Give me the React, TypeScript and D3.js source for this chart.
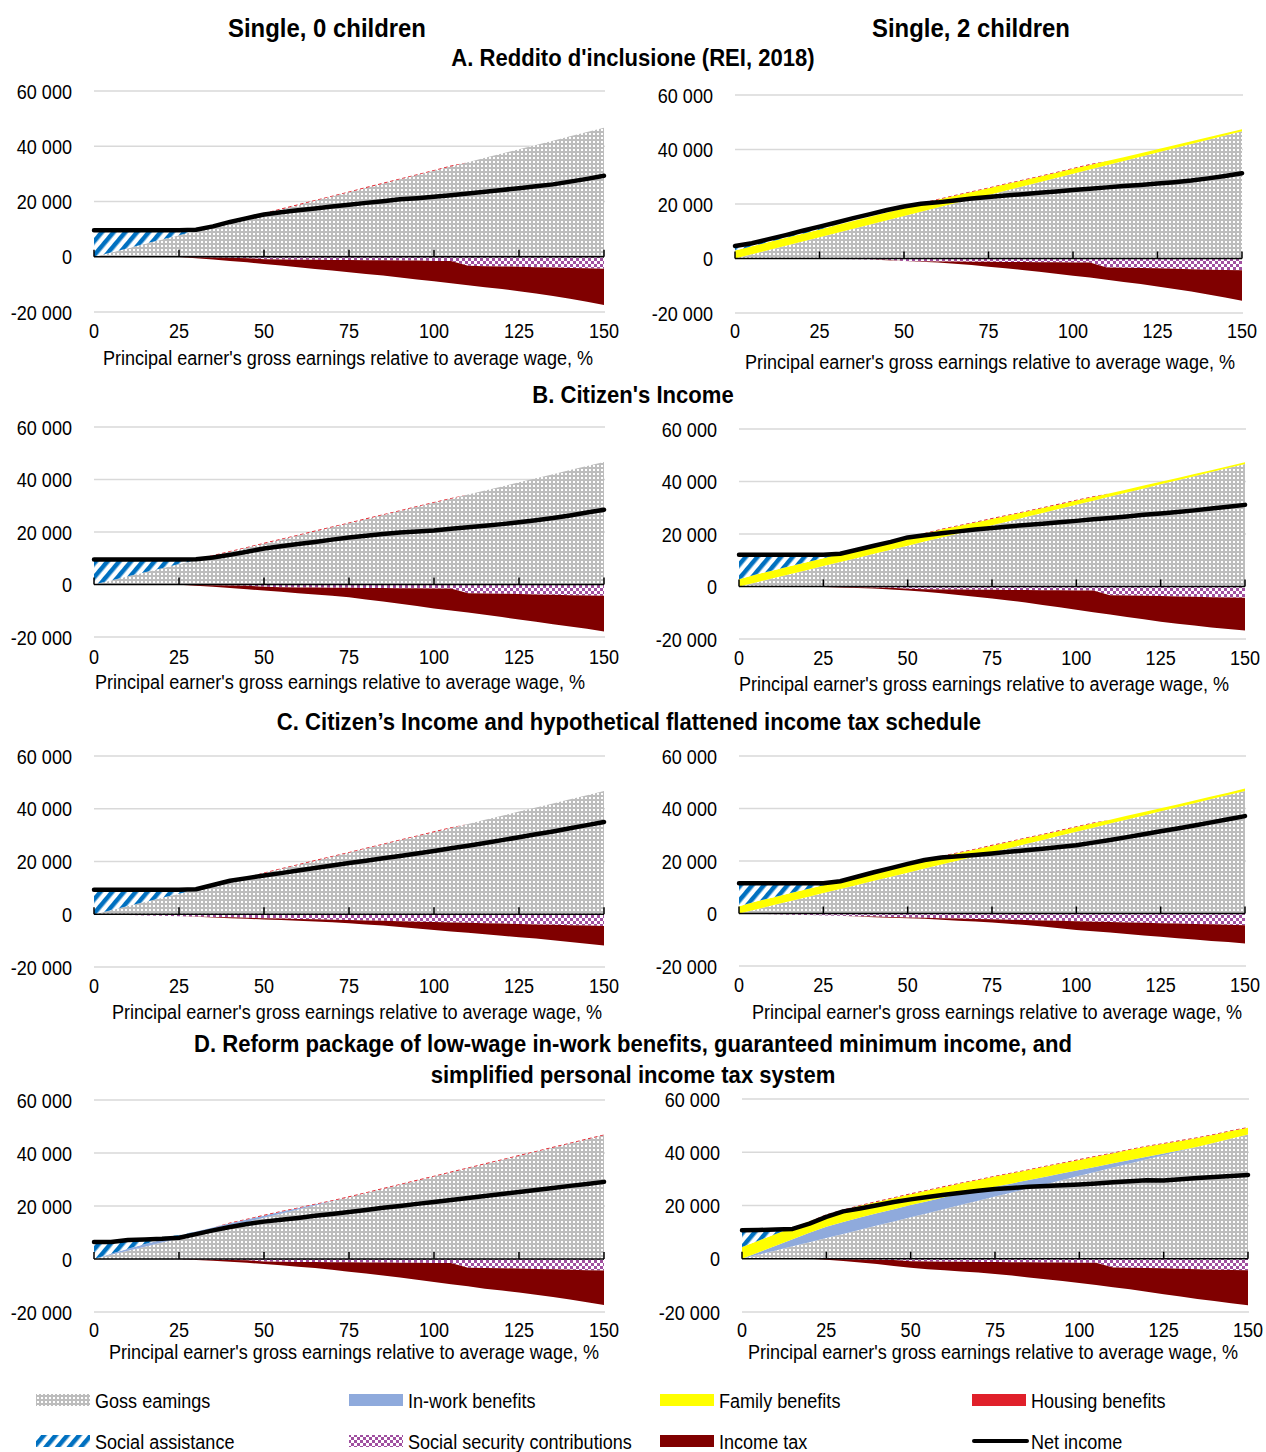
import React from "react";
import * as d3 from "d3";

// Principal earner's gross earnings as % of the average wage (x axis)
const earningsPct = [0, 5, 10, 15, 20, 25, 30, 35, 40, 45, 50, 55, 60, 65, 70, 75, 80, 85, 90, 95, 100, 105, 110, 115, 120, 125, 130, 135, 140, 145, 150];

// Gross earnings, EUR per year
const grossEarnings = [0, 1557, 3113, 4670, 6226, 7783, 9339, 10896, 12452, 14009, 15565, 17122, 18678, 20235, 21791, 23348, 24904, 26461, 28017, 29574, 31130, 32687, 34243, 35800, 37356, 38913, 40469, 42026, 43582, 45139, 46695];

// Social security contributions
const sscFull = [0, 148, 295, 443, 591, 739, 886, 1034, 1182, 1329, 1477, 1625, 1773, 1920, 2068, 2216, 2363, 2511, 2659, 2807, 2954, 3102, 3250, 3397, 3545, 3693, 3841, 3988, 4136, 4284, 4431];
const sscStepped = [0, 0, 0, 0, 0, 100, 200, 300, 400, 500, 900, 1000, 1100, 1100, 1200, 1200, 1300, 1300, 1400, 1400, 1500, 1500, 3300, 3400, 3500, 3600, 3800, 3900, 4100, 4200, 4300];

const noValues = [0, 0, 0, 0, 0, 0, 0, 0, 0, 0, 0, 0, 0, 0, 0, 0, 0, 0, 0, 0, 0, 0, 0, 0, 0, 0, 0, 0, 0, 0, 0];

// A. Reddito d'inclusione (REI, 2018)
const netA0 = [9600, 9600, 9600, 9600, 9600, 9600, 9800, 11000, 12600, 14000, 15300, 16100, 16800, 17500, 18200, 18800, 19500, 20100, 20800, 21200, 21700, 22300, 22900, 23500, 24200, 24800, 25500, 26200, 27200, 28200, 29300];
const saA0 = [9600, 8043, 6487, 4930, 3374, 1817, 261, 0, 0, 0, 0, 0, 0, 0, 0, 0, 0, 0, 0, 0, 0, 0, 0, 0, 0, 0, 0, 0, 0, 0, 0];
const housingA0 = [0, 0, 0, 0, 0, 0, 0, 300, 300, 300, 300, 300, 300, 300, 300, 300, 300, 300, 300, 300, 300, 300, 0, 0, 0, 0, 0, 0, 0, 0, 0];
const taxA0 = [0, 0, 0, 0, 0, 0, 300, 700, 1100, 1500, 1700, 2200, 2700, 3300, 3800, 4400, 4900, 5500, 6100, 6800, 7400, 8100, 7000, 7600, 8200, 8900, 9500, 10300, 11100, 12100, 13200];

const netA2 = [4600, 5600, 7100, 8600, 10200, 11700, 13200, 14800, 16300, 17800, 19100, 20100, 20600, 21300, 22000, 22600, 23100, 23600, 24100, 24600, 25100, 25600, 26100, 26600, 27000, 27500, 28000, 28600, 29400, 30300, 31300];
const famA2 = [2900, 2900, 2900, 2900, 2900, 2900, 2900, 2900, 2900, 2900, 2900, 2900, 2900, 2750, 2600, 2450, 2300, 2150, 2000, 1900, 1800, 1650, 1500, 1400, 1300, 1200, 1100, 1000, 900, 800, 700];
const saA2 = [1700, 1100, 900, 700, 500, 300, 0, 0, 0, 0, 0, 0, 0, 0, 0, 0, 0, 0, 0, 0, 0, 0, 0, 0, 0, 0, 0, 0, 0, 0, 0];
const housingA2 = [0, 0, 0, 0, 0, 0, 0, 0, 0, 0, 0, 300, 300, 300, 300, 300, 300, 300, 300, 300, 300, 300, 0, 0, 0, 0, 0, 0, 0, 0, 0];
const taxA2 = [0, 0, 0, 0, 0, 0, 0, 0, 0, 100, 0, 200, 400, 800, 1200, 1800, 2300, 2900, 3500, 4200, 4800, 5500, 4500, 5200, 5900, 6700, 7400, 8200, 9100, 10100, 11200];

// B. Citizen's Income
const netB0 = [9500, 9500, 9500, 9500, 9500, 9500, 9600, 10300, 11300, 12500, 13700, 14600, 15400, 16200, 17100, 17900, 18600, 19200, 19800, 20200, 20600, 21200, 21800, 22400, 23000, 23700, 24500, 25300, 26300, 27400, 28500];
const saB0 = [9500, 7943, 6387, 4830, 3274, 1717, 161, 0, 0, 0, 0, 0, 0, 0, 0, 0, 0, 0, 0, 0, 0, 0, 0, 0, 0, 0, 0, 0, 0, 0, 0];
const housingB0 = [0, 0, 0, 0, 0, 0, 0, 300, 300, 300, 300, 300, 300, 300, 300, 300, 300, 300, 300, 300, 300, 300, 0, 0, 0, 0, 0, 0, 0, 0, 0];
const taxB0 = [0, 0, 0, 0, 0, 0, 300, 600, 900, 1300, 1400, 1800, 2200, 2700, 3100, 3700, 4400, 5200, 5900, 6800, 7600, 8400, 7400, 8100, 8900, 9700, 10400, 11200, 11900, 12700, 13600];

const netB2 = [12100, 12100, 12100, 12100, 12100, 12100, 12500, 14000, 15500, 17000, 18700, 19500, 20300, 21000, 21700, 22300, 22900, 23400, 23900, 24500, 25000, 25600, 26100, 26700, 27300, 27800, 28400, 29000, 29700, 30400, 31100];
const famB2 = [2800, 3000, 3000, 3000, 3000, 3000, 3000, 3000, 3000, 3000, 3000, 3000, 3000, 2800, 2600, 2400, 2200, 2000, 1900, 1700, 1600, 1400, 1300, 1200, 1100, 1000, 900, 800, 700, 650, 600];
const saB2 = [9300, 7543, 5987, 4430, 2874, 1317, 161, 0, 0, 0, 0, 0, 0, 0, 0, 0, 0, 0, 0, 0, 0, 0, 0, 0, 0, 0, 0, 0, 0, 0, 0];
const housingB2 = [0, 0, 0, 0, 0, 0, 0, 0, 0, 0, 0, 300, 300, 300, 300, 300, 300, 300, 300, 300, 300, 300, 0, 0, 0, 0, 0, 0, 0, 0, 0];
const taxB2 = [0, 0, 0, 0, 0, 100, 200, 300, 400, 600, 600, 1000, 1500, 2100, 2700, 3400, 4000, 4800, 5600, 6500, 7400, 8300, 7400, 8200, 9000, 9800, 10400, 11000, 11500, 12000, 12500];

// C. Citizen's Income and hypothetical flattened income tax schedule
const netC0 = [9300, 9300, 9300, 9300, 9300, 9300, 9500, 11100, 12700, 13700, 14700, 15600, 16600, 17500, 18500, 19400, 20300, 21200, 22100, 23000, 24000, 25000, 26000, 27000, 28100, 29200, 30300, 31400, 32600, 33800, 35000];
const saC0 = [9300, 7743, 6187, 4630, 3074, 1517, 161, 0, 0, 0, 0, 0, 0, 0, 0, 0, 0, 0, 0, 0, 0, 0, 0, 0, 0, 0, 0, 0, 0, 0, 0];
const housingC0 = [0, 0, 0, 0, 0, 0, 0, 0, 0, 0, 300, 300, 300, 300, 300, 300, 300, 300, 300, 300, 300, 300, 0, 0, 0, 0, 0, 0, 0, 0, 0];
const taxC0 = [0, 0, 0, 0, 0, 0, 100, 200, 300, 400, 500, 600, 700, 800, 1000, 1200, 1500, 1800, 2200, 2600, 3000, 3400, 3800, 4200, 4600, 5000, 5400, 5900, 6400, 6900, 7400];

const netC2 = [11500, 11500, 11500, 11500, 11500, 11500, 12300, 14000, 15700, 17300, 18900, 20400, 21300, 21800, 22300, 22900, 23500, 24100, 24700, 25300, 26000, 27000, 28000, 29100, 30200, 31300, 32400, 33500, 34700, 35900, 37100];
const famC2 = [2800, 3000, 3000, 3000, 3000, 3000, 3000, 3000, 3000, 3000, 3000, 3000, 3000, 2800, 2600, 2500, 2300, 2200, 2000, 1900, 1800, 1700, 1500, 1400, 1300, 1200, 1100, 1000, 1000, 900, 900];
const saC2 = [8700, 6943, 5387, 3830, 2274, 717, 0, 0, 0, 0, 0, 0, 0, 0, 0, 0, 0, 0, 0, 0, 0, 0, 0, 0, 0, 0, 0, 0, 0, 0, 0];
const housingC2 = [0, 0, 0, 0, 0, 0, 0, 0, 0, 0, 0, 0, 300, 300, 300, 300, 300, 300, 300, 300, 300, 300, 0, 0, 0, 0, 0, 0, 0, 0, 0];
const taxC2 = [0, 0, 0, 0, 0, 0, 0, 100, 200, 300, 300, 400, 600, 800, 1000, 1200, 1500, 1900, 2300, 2800, 3300, 3700, 4000, 4400, 4800, 5200, 5600, 5900, 6300, 6600, 7000];

// D. Reform package
const netD0 = [6400, 6400, 7200, 7400, 7600, 8000, 9400, 10800, 12100, 13200, 14100, 14800, 15500, 16300, 17000, 17700, 18500, 19300, 20000, 20800, 21500, 22300, 23000, 23800, 24500, 25300, 26000, 26800, 27600, 28300, 29100];
const inworkD0 = [0, 400, 800, 1000, 1000, 1000, 1000, 1000, 1000, 900, 800, 700, 500, 300, 100, 0, 0, 0, 0, 0, 0, 0, 0, 0, 0, 0, 0, 0, 0, 0, 0];
const saD0 = [6200, 4500, 3000, 2000, 1000, 300, 0, 0, 0, 0, 0, 0, 0, 0, 0, 0, 0, 0, 0, 0, 0, 0, 0, 0, 0, 0, 0, 0, 0, 0, 0];
const housingD0 = [0, 0, 0, 0, 0, 0, 0, 0, 300, 300, 300, 300, 300, 300, 300, 300, 300, 300, 300, 300, 300, 300, 300, 300, 300, 300, 300, 300, 300, 300, 300];
const taxD0 = [0, 0, 0, 0, 0, 0, 200, 400, 600, 900, 1000, 1400, 1800, 2300, 2900, 3600, 4200, 4900, 5600, 6400, 7200, 8000, 7000, 7800, 8400, 9000, 9700, 10400, 11200, 12100, 13100];

const netD2 = [10700, 10800, 11000, 11200, 13200, 15700, 17800, 18900, 20100, 21300, 22300, 23200, 24000, 24800, 25500, 26200, 26600, 27000, 27300, 27600, 27900, 28300, 28700, 29100, 29500, 29400, 29900, 30300, 30700, 31100, 31500];
const inworkD2 = [0, 900, 1800, 2700, 3500, 4200, 4500, 4600, 4600, 4600, 4600, 4500, 4400, 4300, 4000, 3700, 3400, 3100, 2800, 2500, 2200, 1900, 1600, 1300, 1000, 600, 300, 0, 0, 0, 0];
const famD2 = [4400, 4400, 4400, 4400, 4400, 4400, 4400, 4400, 4300, 4200, 4100, 4000, 3900, 3800, 3800, 3800, 3800, 3800, 3800, 3800, 3800, 3800, 3800, 3800, 3800, 3700, 3500, 3300, 3000, 2800, 2500];
const saD2 = [6300, 3900, 1700, 0, 0, 0, 0, 0, 0, 0, 0, 0, 0, 0, 0, 0, 0, 0, 0, 0, 0, 0, 0, 0, 0, 0, 0, 0, 0, 0, 0];
const housingD2 = [0, 0, 0, 0, 0, 300, 300, 300, 300, 300, 300, 300, 300, 300, 300, 300, 300, 300, 300, 300, 300, 300, 300, 300, 300, 300, 300, 300, 300, 300, 300];
const taxD2 = [0, 0, 0, 0, 0, 300, 600, 1100, 1600, 2200, 2500, 2900, 3200, 3700, 4000, 4500, 5000, 5700, 6300, 7000, 7600, 8400, 7400, 8100, 8900, 9700, 10400, 11200, 11800, 12500, 13200];

const xTicks = [0, 25, 50, 75, 100, 125, 150];
const yTicks = [60000, 40000, 20000, 0, -20000];
const yTickLabels = ["60 000", "40 000", "20 000", "0", "-20 000"];
const xAxisTitle = "Principal earner's gross earnings relative to average wage, %";

type Series = { inwork: number[]; fam: number[]; sa: number[]; housing: number[]; ssc: number[]; tax: number[]; net: number[] };

const panelSeries: Series[] = [
  { inwork: noValues, fam: noValues, sa: saA0, housing: housingA0, ssc: sscStepped, tax: taxA0, net: netA0 },
  { inwork: noValues, fam: famA2, sa: saA2, housing: housingA2, ssc: sscStepped, tax: taxA2, net: netA2 },
  { inwork: noValues, fam: noValues, sa: saB0, housing: housingB0, ssc: sscStepped, tax: taxB0, net: netB0 },
  { inwork: noValues, fam: famB2, sa: saB2, housing: housingB2, ssc: sscStepped, tax: taxB2, net: netB2 },
  { inwork: noValues, fam: noValues, sa: saC0, housing: housingC0, ssc: sscFull, tax: taxC0, net: netC0 },
  { inwork: noValues, fam: famC2, sa: saC2, housing: housingC2, ssc: sscFull, tax: taxC2, net: netC2 },
  { inwork: inworkD0, fam: noValues, sa: saD0, housing: housingD0, ssc: sscStepped, tax: taxD0, net: netD0 },
  { inwork: inworkD2, fam: famD2, sa: saD2, housing: housingD2, ssc: sscStepped, tax: taxD2, net: netD2 },
];

// Pixel frame of each small chart
const frames = [
  { x0: 94, x1: 604, yTop: 91, yBot: 312, labelRight: 72, tickY: 338, titleX: 348, titleY: 365 },
  { x0: 735, x1: 1242, yTop: 95, yBot: 313, labelRight: 713, tickY: 338, titleX: 990, titleY: 369 },
  { x0: 94, x1: 604, yTop: 427, yBot: 637, labelRight: 72, tickY: 664, titleX: 340, titleY: 689 },
  { x0: 739, x1: 1245, yTop: 429, yBot: 639, labelRight: 717, tickY: 665, titleX: 984, titleY: 691 },
  { x0: 94, x1: 604, yTop: 756, yBot: 967, labelRight: 72, tickY: 993, titleX: 357, titleY: 1019 },
  { x0: 739, x1: 1245, yTop: 756, yBot: 966, labelRight: 717, tickY: 992, titleX: 997, titleY: 1019 },
  { x0: 94, x1: 604, yTop: 1100, yBot: 1312, labelRight: 72, tickY: 1337, titleX: 354, titleY: 1359 },
  { x0: 742, x1: 1248, yTop: 1099, yBot: 1312, labelRight: 720, tickY: 1337, titleX: 993, titleY: 1359 },
];

const FONT = "'Liberation Sans', Arial, sans-serif";
const NARROW = 0.86;
const NARROW_BOLD = 0.92;

const COLORS = {
  grossBg: "#bdbdbd",
  inwork: "#8faadc",
  fam: "#ffff00",
  housing: "#e0202a",
  sa: "#0070c0",
  ssc: "#a050a0",
  tax: "#800000",
  grid: "#d9d9d9",
};

const posKeys = ["gross", "inwork", "fam", "sa", "housing"];
const negKeys = ["ssc", "tax"];
const fills: Record<string, string> = {
  gross: "url(#pGross)",
  inwork: COLORS.inwork,
  fam: COLORS.fam,
  sa: "url(#pSa)",
  housing: "url(#pHousing)",
  ssc: "url(#pSsc)",
  tax: COLORS.tax,
};

// Horizontally condensed text, anchored at (x, y)
function T({ x, y, anchor = "start", size = 21, bold = false, children }: any) {
  return (
    <text
      transform={`translate(${x},${y}) scale(${bold ? NARROW_BOLD : NARROW},1)`}
      textAnchor={anchor}
      fontSize={size}
      fontWeight={bold ? "bold" : "normal"}
      fill="#000"
    >
      {children}
    </text>
  );
}

function Panel({ idx }: { idx: number }) {
  const f = frames[idx];
  const s = panelSeries[idx];
  const x = d3.scaleLinear().domain([0, 150]).range([f.x0, f.x1]);
  const y = d3.scaleLinear().domain([-20000, 60000]).range([f.yBot, f.yTop]);

  const rows = earningsPct.map((p, i) => ({
    pct: p,
    gross: grossEarnings[i],
    inwork: s.inwork[i],
    fam: s.fam[i],
    sa: s.sa[i],
    housing: s.housing[i],
    ssc: s.ssc[i],
    tax: s.tax[i],
  }));
  const posStack = d3.stack<any>().keys(posKeys)(rows);
  const negStack = d3.stack<any>().keys(negKeys)(rows);
  const areaUp = d3
    .area<any>()
    .x((d) => x(d.data.pct))
    .y0((d) => y(d[0]))
    .y1((d) => y(d[1]));
  const areaDown = d3
    .area<any>()
    .x((d) => x(d.data.pct))
    .y0((d) => y(-d[0]))
    .y1((d) => y(-d[1]));
  const netLine = d3
    .line<number>()
    .x((_, i) => x(earningsPct[i]))
    .y((d) => y(d));

  return (
    <g>
      {yTicks.filter((t) => t !== 0).map((t) => (
        <line key={t} x1={f.x0} x2={f.x1 + 1} y1={y(t)} y2={y(t)} stroke={COLORS.grid} strokeWidth={1.5} />
      ))}
      {posStack.map((layer) => (
        <path key={layer.key} d={areaUp(layer as any) || ""} fill={fills[layer.key]} />
      ))}
      {negStack.map((layer) => (
        <path key={layer.key} d={areaDown(layer as any) || ""} fill={fills[layer.key]} />
      ))}
      <line x1={f.x0} x2={f.x1} y1={y(0)} y2={y(0)} stroke="#000" strokeWidth={1.5} />
      {xTicks.map((t) => (
        <line key={t} x1={x(t)} x2={x(t)} y1={y(0)} y2={y(0) - 7} stroke="#000" strokeWidth={1.5} />
      ))}
      <path d={netLine(s.net) || ""} fill="none" stroke="#000" strokeWidth={4.5} strokeLinejoin="round" strokeLinecap="round" />
      {yTicks.map((t, i) => (
        <T key={t} x={f.labelRight} y={y(t) + 7.5} anchor="end">
          {yTickLabels[i]}
        </T>
      ))}
      {xTicks.map((t) => (
        <T key={t} x={x(t)} y={f.tickY} anchor="middle">
          {t}
        </T>
      ))}
      <T x={f.titleX} y={f.titleY} anchor="middle">
        {xAxisTitle}
      </T>
    </g>
  );
}

const legendItems = [
  { label: "Goss eamings", kind: "rect", fill: "url(#pGross)", x: 36, row: 0 },
  { label: "In-work benefits", kind: "rect", fill: COLORS.inwork, x: 349, row: 0 },
  { label: "Family benefits", kind: "rect", fill: COLORS.fam, x: 660, row: 0 },
  { label: "Housing benefits", kind: "rect", fill: COLORS.housing, x: 972, row: 0 },
  { label: "Social assistance", kind: "rect", fill: "url(#pSa)", x: 36, row: 1 },
  { label: "Social security contributions", kind: "rect", fill: "url(#pSsc)", x: 349, row: 1 },
  { label: "Income tax", kind: "rect", fill: COLORS.tax, x: 660, row: 1 },
  { label: "Net income", kind: "line", fill: "#000", x: 972, row: 1 },
];

export default function App() {
  return (
    <svg
      width={1266}
      height={1452}
      style={{ position: "absolute", left: 0, top: 0, background: "#fff" }}
      fontFamily={FONT}
    >
      <defs>
        <pattern id="pGross" patternUnits="userSpaceOnUse" width={4} height={4}>
          <rect width={4} height={4} fill={COLORS.grossBg} />
          <rect x={1} y={1} width={2} height={2} fill="#fff" />
        </pattern>
        <pattern id="pSa" patternUnits="userSpaceOnUse" width={9} height={9} patternTransform="rotate(40)">
          <rect width={9} height={9} fill="#fff" />
          <rect width={4.5} height={9} fill={COLORS.sa} />
        </pattern>
        <pattern id="pSsc" patternUnits="userSpaceOnUse" width={6} height={6}>
          <rect width={6} height={6} fill="#fff" />
          <rect width={3} height={3} fill={COLORS.ssc} />
          <rect x={3} y={3} width={3} height={3} fill={COLORS.ssc} />
        </pattern>
        <pattern id="pHousing" patternUnits="userSpaceOnUse" width={6} height={6}>
          <rect width={3.5} height={6} fill={COLORS.housing} />
        </pattern>
      </defs>
      <rect width={1266} height={1452} fill="#fff" />

      <T x={327} y={37} anchor="middle" size={26} bold>Single, 0 children</T>
      <T x={971} y={37} anchor="middle" size={26} bold>Single, 2 children</T>
      <T x={633} y={66} anchor="middle" size={24} bold>A. Reddito d'inclusione (REI, 2018)</T>
      <T x={633} y={403} anchor="middle" size={24} bold>B. Citizen's Income</T>
      <T x={629} y={730} anchor="middle" size={24} bold>C. Citizen’s Income and hypothetical flattened income tax schedule</T>
      <T x={633} y={1052} anchor="middle" size={24} bold>D. Reform package of low-wage in-work benefits, guaranteed minimum income, and</T>
      <T x={633} y={1083} anchor="middle" size={24} bold>simplified personal income tax system</T>

      {frames.map((_, i) => (
        <Panel key={i} idx={i} />
      ))}

      {legendItems.map((it) => {
        const cy = it.row === 0 ? 1400 : 1441;
        return (
          <g key={it.label}>
            {it.kind === "rect" ? (
              <rect x={it.x} y={cy - 6} width={54} height={12} fill={it.fill} />
            ) : (
              <line x1={it.x + 2} x2={it.x + 55} y1={cy} y2={cy} stroke="#000" strokeWidth={4} strokeLinecap="round" />
            )}
            <T x={it.x + 59} y={cy + 7.5}>
              {it.label}
            </T>
          </g>
        );
      })}
    </svg>
  );
}
